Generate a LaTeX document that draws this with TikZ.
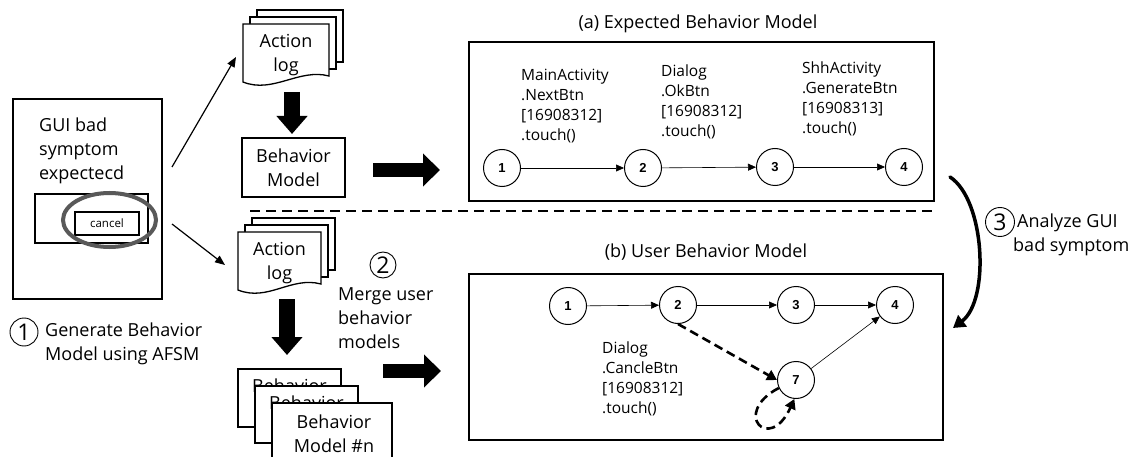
\documentclass[tikz,border=0pt]{standalone}
\usepackage{fontspec}
\setmainfont{Open Sans}
\newfontfamily\numfont{Liberation Sans}
\usetikzlibrary{arrows.meta,shapes.geometric}

\newcommand\actionlog[4]{% #1 x, #2 y, #3 width, #4 name
  \begin{scope}[shift={(#1,#2)}]
    \draw[sheet] (14,-14) rectangle (#3+14,38);
    \draw[sheet] (7,-7) rectangle (#3+7,45);
    \draw[sheet] (0,0) -- (#3,0) -- (#3,52) .. controls (#3-30,44) and (30,70) .. (0,58) -- cycle;
    \node[txt] (#4) at (#3/2,31.5) {Action\\log};
  \end{scope}}

\begin{document}
\begin{tikzpicture}[x=1pt,y=-1pt,
  box/.style={draw, line width=1.3pt, inner sep=0, fill=white},
  sheet/.style={draw, line width=1.3pt, fill=white},
  txt/.style={font=\fontsize{18}{24}\selectfont, align=center, inner sep=0},
  ltxt/.style={font=\fontsize{18}{24}\selectfont, align=left, inner sep=0, anchor=west},
  lbl/.style={font=\fontsize{15.5}{20}\selectfont, align=left, inner sep=0, anchor=west},
  st/.style={circle, draw, line width=1pt, minimum size=37pt, inner sep=0, fill=white,
    font=\numfont\bfseries\fontsize{13}{13}\selectfont},
  edge/.style={line width=0.6pt, -{Triangle[length=8pt,width=7pt]}},
  dedge/.style={line width=2.6pt, dash pattern=on 9pt off 5pt, -{Triangle[length=10pt,width=11pt]}},
  blkd/.style={line width=16pt, -{Triangle[length=18pt,width=30pt]}},
  blkr/.style={line width=14pt, -{Triangle[length=17pt,width=32pt]}},
  thin/.style={line width=1.2pt, -{Triangle[length=10pt,width=8pt]}},
  cnum/.style={circle, draw, line width=0.9pt, inner sep=0, font=\fontsize{23}{23}\selectfont},
]
\clip (0,0) rectangle (1138,457);
\fill[white] (0,0) rectangle (1138,457);

% ---- left GUI box
\node[box, minimum width=149pt, minimum height=200pt] (gui) at (87.5,199) {};
\node[ltxt] (guitxt) at (39,151) {GUI bad\\symptom\\expectecd};
\node[box, minimum width=113pt, minimum height=49pt] (dlg) at (91.5,218.5) {};
\node[box, line width=1.2pt, minimum width=64pt, minimum height=23pt,
  font=\fontsize{11.5}{12}\selectfont] (cancel) at (107,223.5) {cancel};
\node[ellipse, draw=black!65, line width=4pt, minimum width=93pt, minimum height=54pt] (hl) at (109.5,220) {};

\node[cnum, minimum size=28pt] (n1) at (24,332) {1};
\node[ltxt] (step1) at (45,343.5) {Generate Behavior\\Model using AFSM};

% ---- thin arrows to action logs
\coordinate (t1s) at (172,167); \coordinate (t1e) at (236,57);
\coordinate (t2s) at (172,224); \coordinate (t2e) at (225,265);
\draw[thin] (t1s) -- (t1e);
\draw[thin] (t2s) -- (t2e);

% ---- action logs
\actionlog{243}{24}{86}{log1}
\actionlog{238}{232}{83}{log2}

% ---- thick down arrows
\coordinate (d1s) at (292,92); \coordinate (d1e) at (292,134);
\draw[blkd] (d1s) -- (d1e);
\coordinate (d2s) at (287,299); \coordinate (d2e) at (287,355);
\draw[blkd] (d2s) -- (d2e);

% ---- behavior model (upper)
\node[box, txt, minimum width=103pt, minimum height=59pt] (bm) at (293.5,167.5) {Behavior\\Model};

% ---- behavior model stack (lower)
\node[box, txt, minimum width=103pt, minimum height=58pt] (bm1) at (289.5,398) {Behavior\\Model};
\node[box, txt, minimum width=103pt, minimum height=57pt] (bm2) at (306.5,414.5) {Behavior\\Model};
\node[box, minimum width=120pt, minimum height=70pt] (bm3) at (332,438) {};
\node[txt] (bmn) at (334,433.5) {Behavior\\Model \#n};

% ---- merge text
\node[cnum, minimum size=26pt] (n2) at (383,265) {2};
\node[ltxt] (step2) at (338,318) {Merge user\\behavior\\models};

% ---- thick right arrows
\coordinate (r1s) at (373,170); \coordinate (r1e) at (440,170);
\draw[blkr] (r1s) -- (r1e);
\coordinate (r2s) at (383,371); \coordinate (r2e) at (441,371);
\draw[blkr] (r2s) -- (r2e);

% ---- dashed separator
\coordinate (sepL) at (250,211); \coordinate (sepR) at (936,211);
\draw[line width=1.5pt, dash pattern=on 10pt off 6pt] (sepL) -- (sepR);

% ---- (a) expected behavior model
\node[txt] (ta) at (698,24) {(a) Expected Behavior Model};
\node[box, minimum width=465pt, minimum height=159pt] (boxa) at (701.5,121.5) {};
\node[st] (a1) at (502,168) {1};
\node[st] (a2) at (643,168) {2};
\node[st] (a3) at (775,167) {3};
\node[st] (a4) at (904,167) {4};
\draw[edge] (a1) -- (a2);
\draw[edge] (a2) -- (a3);
\draw[edge] (a3) -- (a4);
\node[lbl] (la1) at (521,106) {MainActivity\\.NextBtn\\{[16908312]}\\.touch()};
\node[lbl] (la2) at (661,102) {Dialog\\.OkBtn\\{[16908312]}\\.touch()};
\node[lbl] (la3) at (802,99) {ShhActivity\\.GenerateBtn\\{[16908313]}\\.touch()};

% ---- (b) user behavior model
\node[txt] (tb) at (706,252) {(b) User Behavior Model};
\node[box, minimum width=474pt, minimum height=166pt] (boxb) at (706,357) {};
\node[st] (b1) at (568,306) {1};
\node[st] (b2) at (678,305) {2};
\node[st] (b3) at (796,305) {3};
\node[st] (b4) at (895,305) {4};
\node[st] (b7) at (796,380) {7};
\draw[edge] (b1) -- (b2);
\draw[edge] (b2) -- (b3);
\draw[edge] (b3) -- (b4);
\draw[edge] (b7) -- (b4);
\draw[dedge] (b2.south) -- (b7.west);
\draw[dedge] (b7.205) .. controls +(-48,25) and +(-25,55) .. (b7.-95);
\node[lbl] (lb) at (602,379) {Dialog\\.CancleBtn\\{[16908312]}\\.touch()};

% ---- analyze arrow
\coordinate (c3s) at (950,177); \coordinate (c3e) at (953,328);
\draw[line width=3.5pt, line cap=round, -{Triangle[length=12pt,width=14pt]}] (c3s) .. controls (985,200) and (990,300) .. (c3e);
\node[cnum, minimum size=29pt] (n3) at (1000,222) {3};
\node[ltxt] (step3) at (1013,234.5) {\hspace*{4pt}Analyze GUI\\bad symptom};
\end{tikzpicture}
\end{document}
